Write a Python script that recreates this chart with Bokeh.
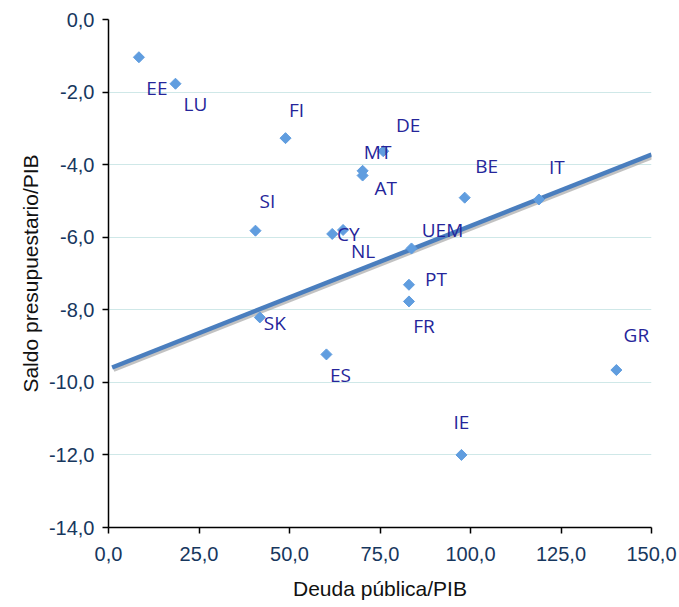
from bokeh.plotting import figure
from bokeh.models import ColumnDataSource, FixedTicker, Range1d
from bokeh.core.properties import value
from bokeh.transform import dodge
from bokeh.embed import file_html
from bokeh.resources import INLINE

# ---- data ----
countries = ["EE", "LU", "FI", "DE", "MT", "AT", "BE", "IT", "SI", "CY",
             "NL", "UEM", "PT", "FR", "SK", "ES", "GR", "IE"]
debt = [8.4, 18.5, 48.9, 75.9, 70.2, 70.2, 98.4, 118.9, 40.6, 61.8,
        64.8, 83.7, 83.0, 83.0, 41.8, 60.2, 140.3, 97.5]
balance = [-1.04, -1.77, -3.27, -3.63, -4.17, -4.30, -4.91, -4.96, -5.82, -5.91,
           -5.80, -6.31, -7.31, -7.77, -8.21, -9.23, -9.66, -12.0]

trend_x = [1.0, 150.0]
trend_y = [-9.59, -3.72]

x_ticks = [0, 25, 50, 75, 100, 125, 150]
x_tick_labels = ["0,0", "25,0", "50,0", "75,0", "100,0", "125,0", "150,0"]
y_ticks = [0, -2, -4, -6, -8, -10, -12, -14]
y_tick_labels = ["0,0", "-2,0", "-4,0", "-6,0", "-8,0", "-10,0", "-12,0", "-14,0"]

# label placement (screen pixel offsets from each point)
label_dx = [18, 20, 11, 25, 15, 23, 22, 18, 12, 16, 20, 31, 27, 15, 15, 14, 20, 0]
label_dy = [31, 20, -28, -26, -19, 12, -32, -32, -30, 0, 21, -18, -6, 25, 6, 21, -35, -33]

src = ColumnDataSource(dict(x=debt, y=balance, name=countries, dx=label_dx, dy=label_dy))
tsrc = ColumnDataSource(dict(x=trend_x, y=trend_y))

p = figure(width=679, height=607, output_backend="svg", toolbar_location=None,
           x_range=Range1d(0, 150), y_range=Range1d(-14, 0),
           min_border_left=108, min_border_right=28, min_border_top=19, min_border_bottom=80)
p.outline_line_color = None
p.background_fill_color = "white"
p.border_fill_color = "white"

p.xgrid.visible = False
p.ygrid.ticker = FixedTicker(ticks=y_ticks)
p.ygrid.grid_line_color = "#cfe8e8"
p.ygrid.grid_line_width = 1

for ax in (p.xaxis[0], p.yaxis[0]):
    ax.axis_line_color = "black"
    ax.axis_line_width = 1.5
    ax.major_tick_line_color = "black"
    ax.major_tick_line_width = 1.5
    ax.major_tick_out = 6
    ax.major_tick_in = 0
    ax.minor_tick_line_color = None
    ax.major_label_text_font = "Liberation Sans"
    ax.major_label_text_font_size = "20px"
    ax.major_label_text_color = "#17375e"
    ax.axis_label_text_font = "Liberation Sans"
    ax.axis_label_text_font_size = "21px"
    ax.axis_label_text_font_style = "normal"
    ax.axis_label_text_color = "#111111"

p.xaxis.ticker = FixedTicker(ticks=x_ticks)
p.xaxis.major_label_overrides = {t: l for t, l in zip(x_ticks, x_tick_labels)}
p.yaxis.ticker = FixedTicker(ticks=y_ticks)
p.yaxis.major_label_overrides = {t: l for t, l in zip(y_ticks, y_tick_labels)}
p.xaxis.axis_label = "Deuda pública/PIB"
p.yaxis.axis_label = "Saldo presupuestario/PIB"
p.xaxis.major_label_standoff = 13
p.xaxis.axis_label_standoff = 13
p.yaxis.major_label_standoff = 8
p.yaxis.axis_label_standoff = 4

# trend line with a soft shadow
p.line(x=dodge("x", 0.4, range=p.x_range), y=dodge("y", -0.06, range=p.y_range), source=tsrc,
       line_color="#9a9a9a", line_alpha=0.6, line_width=4.5)
p.line(x="x", y="y", source=tsrc, line_color="#4a7ebe", line_width=4.5)

p.scatter(x="x", y="y", source=src, marker="square", angle=0.785398, size=7.8,
          fill_color="#609ddf", line_color="#609ddf")

p.text(x="x", y="y", text="name", source=src, x_offset="dx", y_offset="dy",
       text_align="center", text_baseline="middle",
       text_font=value("Open Sans"), text_font_size="19px", text_color="#25259a")

open("out.html", "w").write(file_html(p, INLINE))
